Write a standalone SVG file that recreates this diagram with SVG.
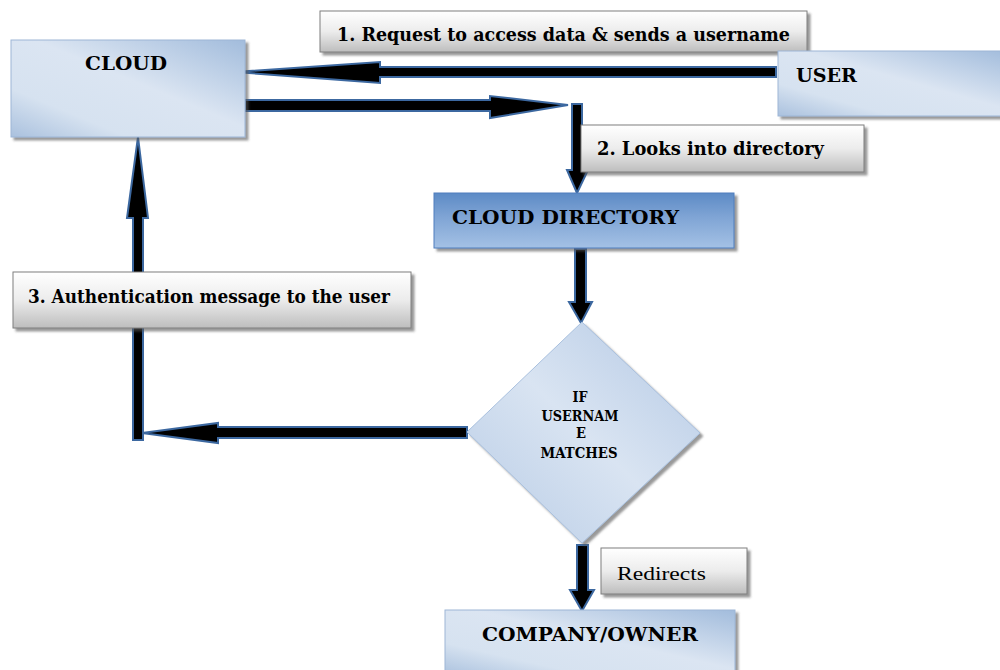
<svg xmlns="http://www.w3.org/2000/svg" width="1000" height="670" viewBox="0 0 1000 670">
<defs>
  <linearGradient id="gBox" x1="1" y1="0" x2="0" y2="1">
    <stop offset="0" stop-color="#a2bcdc"/>
    <stop offset="0.45" stop-color="#dbe5f2"/>
    <stop offset="0.75" stop-color="#d6e2f0"/>
    <stop offset="1" stop-color="#aac1de"/>
  </linearGradient>
  <linearGradient id="gDir" x1="0" y1="0" x2="0" y2="1">
    <stop offset="0" stop-color="#5d8bc6"/>
    <stop offset="0.45" stop-color="#80a5d5"/>
    <stop offset="1" stop-color="#a4c1e5"/>
  </linearGradient>
  <linearGradient id="gDia" x1="1" y1="0" x2="0" y2="1">
    <stop offset="0" stop-color="#b3c8e4"/>
    <stop offset="0.5" stop-color="#d9e4f2"/>
    <stop offset="1" stop-color="#b7cbe5"/>
  </linearGradient>
  <linearGradient id="gLab" x1="0" y1="0" x2="0" y2="1">
    <stop offset="0" stop-color="#ffffff"/>
    <stop offset="0.5" stop-color="#ececec"/>
    <stop offset="1" stop-color="#bdbdbd"/>
  </linearGradient>
  <filter id="sh" x="-10%" y="-10%" width="130%" height="140%">
    <feDropShadow dx="3" dy="3" stdDeviation="1.2" flood-color="#555" flood-opacity="0.6"/>
  </filter>
</defs>
<style>
  .box { fill: url(#gBox); stroke: #9db6d6; stroke-width: 1; filter: url(#sh); }
  .dir { fill: url(#gDir); stroke: #4f7fbd; stroke-width: 1; filter: url(#sh); }
  .dia { fill: url(#gDia); stroke: #a9c0de; stroke-width: 1; filter: url(#sh); }
  .lab { fill: url(#gLab); stroke: #7f7f7f; stroke-width: 1; filter: url(#sh); }
  .t { font-family: "DejaVu Serif", "Liberation Serif", serif; font-weight: bold; fill: #000; }
  .tr { font-family: "Liberation Serif", "Times New Roman", serif; fill: #000; }
  .arr { fill: #000; stroke: #3c68a0; stroke-width: 2; stroke-linejoin: miter; }
</style>

<g id="connectors">
  <!-- USER to CLOUD -->
  <polygon class="arr" points="776,67 380,67 380,62 235,72 380,83 380,77 776,77"/>
  <!-- CLOUD to directory (horizontal) -->
  <polygon class="arr" points="245,100 490,100 490,96 568,105 490,118 490,111 245,111"/>
  <!-- down to CLOUD DIRECTORY -->
  <polygon class="arr" points="572,104 582,104 582,170 588,170 577,193 567,170 572,170"/>
  <!-- CLOUD DIRECTORY to diamond -->
  <polygon class="arr" points="575,249 586,249 586,302 592,302 581,323 569,302 575,302"/>
  <!-- diamond to left -->
  <polygon class="arr" points="467,427 218,427 218,423 142,433 218,443 218,438 467,438"/>
  <!-- up to CLOUD -->
  <polygon class="arr" points="133,440 143,440 143,218 148,218 138,137 127,218 133,218"/>
  <!-- Redirects -->
  <polygon class="arr" points="577,545 588,545 588,590 594,590 582,611 570,590 577,590"/>
</g>

<g id="label1">
  <rect class="lab" x="320" y="11" width="487" height="41"/>
  <text class="t" x="337" y="41" font-size="19" textLength="453" lengthAdjust="spacingAndGlyphs">1. Request to access data &amp; sends a username</text>
</g>

<g id="cloud">
  <rect class="box" x="11" y="40" width="234" height="97"/>
  <text class="t" x="85" y="70" font-size="19" textLength="82" lengthAdjust="spacingAndGlyphs">CLOUD</text>
</g>

<g id="user">
  <rect class="box" x="778" y="51" width="230" height="65"/>
  <text class="t" x="796" y="82" font-size="19" textLength="61" lengthAdjust="spacingAndGlyphs">USER</text>
</g>

<g id="label2">
  <rect class="lab" x="581" y="125" width="283" height="47"/>
  <text class="t" x="597" y="155" font-size="19" textLength="227" lengthAdjust="spacingAndGlyphs">2. Looks into directory</text>
</g>

<g id="cloud-directory">
  <rect class="dir" x="434" y="193" width="300" height="55"/>
  <text class="t" x="452" y="224" font-size="19" textLength="227" lengthAdjust="spacingAndGlyphs">CLOUD DIRECTORY</text>
</g>

<g id="label3">
  <rect class="lab" x="13" y="272" width="398" height="56"/>
  <text class="t" x="28" y="303" font-size="19" textLength="362" lengthAdjust="spacingAndGlyphs">3. Authentication message to the user</text>
</g>

<g id="decision">
  <polygon class="dia" points="582,322 700,433 582,543 467,432"/>
  <text class="t" x="580" y="402" font-size="14" text-anchor="middle" textLength="15" lengthAdjust="spacingAndGlyphs">IF</text>
  <text class="t" x="580" y="421" font-size="14" text-anchor="middle" textLength="77" lengthAdjust="spacingAndGlyphs">USERNAM</text>
  <text class="t" x="581" y="438" font-size="14" text-anchor="middle" textLength="10" lengthAdjust="spacingAndGlyphs">E</text>
  <text class="t" x="579" y="458" font-size="14" text-anchor="middle" textLength="77" lengthAdjust="spacingAndGlyphs">MATCHES</text>
</g>

<g id="label-redirects">
  <rect class="lab" x="601" y="548" width="146" height="46"/>
  <text class="tr" x="617" y="580" font-size="19" textLength="89" lengthAdjust="spacingAndGlyphs">Redirects</text>
</g>

<g id="company-owner">
  <rect class="box" x="445" y="610" width="290" height="66"/>
  <text class="t" x="482" y="641" font-size="19" textLength="216" lengthAdjust="spacingAndGlyphs">COMPANY/OWNER</text>
</g>
</svg>
